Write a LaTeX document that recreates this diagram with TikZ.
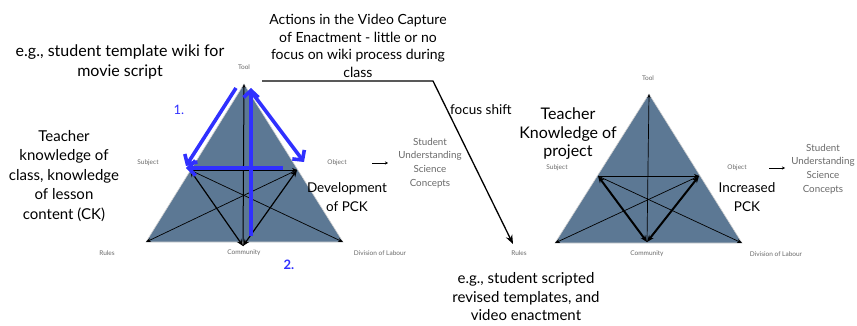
\documentclass[tikz,border=0pt]{standalone}
\usepackage{fontspec}
\setmainfont{Lato}
\usetikzlibrary{arrows.meta}
\definecolor{triblue}{RGB}{92,120,148}
\definecolor{penblue}{RGB}{48,48,255}
\definecolor{labgrey}{RGB}{105,105,105}

\begin{document}
\begin{tikzpicture}[x=1pt, y=-1pt,
  big/.style={align=center, font=\fontsize{13.5}{18.5}\selectfont, inner sep=0pt},
  small/.style={text=labgrey, font=\fontsize{6.5}{8}\selectfont, inner sep=0pt},
  grey block/.style={text=labgrey, align=center, font=\fontsize{9.8}{13.6}\selectfont, inner sep=0pt},
  thin arrow/.style={-{Stealth[length=5pt,width=4pt]}, line width=0.7pt},
  thick arrow/.style={{Stealth[length=7pt,width=5.5pt]}-{Stealth[length=7pt,width=5.5pt]}},
  pen/.style={penblue, line width=3.6pt, -{Straight Barb[length=7pt,width=15pt]}}]
  \useasboundingbox (0,0) rectangle (857,326);
  % left triangle
  \coordinate (tool1) at (244,84);
  \coordinate (rules1) at (146,242);
  \coordinate (div1) at (343,242);
  \coordinate (subj1) at (190,170);
  \coordinate (obj1) at (297,170);
  \coordinate (comm1) at (243,246);
  \fill[triblue, draw=gray!35, line width=0.6pt] (tool1) -- (rules1) -- (div1) -- cycle;
  \draw[thin arrow, {Stealth[length=4pt,width=3pt]}-, line width=1pt] (tool1) -- (comm1);
  \draw[thin arrow] (subj1) -- (obj1);
  \draw[thin arrow] (obj1) -- (rules1);
  \draw[thin arrow] (subj1) -- (div1);
  \draw[thick arrow, line width=1.2pt] (comm1) -- (subj1);
  \draw[thick arrow, line width=1.2pt] (comm1) -- (obj1);
  % right triangle
  \coordinate (tool2) at (649,94);
  \coordinate (rules2) at (555,243);
  \coordinate (div2) at (742,243);
  \coordinate (subj2) at (598,176);
  \coordinate (obj2) at (699,176);
  \coordinate (comm2) at (647,242);
  \fill[triblue, draw=gray!35, line width=0.6pt] (tool2) -- (rules2) -- (div2) -- cycle;
  \draw[thin arrow, {Stealth[length=4pt,width=3pt]}-] (tool2) -- (comm2);
  \draw[thin arrow] (subj2) -- (obj2);
  \draw[thin arrow] (obj2) -- (rules2);
  \draw[thin arrow] (subj2) -- (div2);
  \draw[thick arrow, line width=2pt] (comm2) -- (subj2);
  \draw[thick arrow, line width=2pt] (comm2) -- (obj2);
  % corner labels
  \foreach \k/\dx/\dy in {1/0/0, 2/404/5} {
    \node[small] (tooll\k) at ({244+\dx},{67+\dy+(\k-1)*6}) {Tool};
    \node[small] (subjl\k) at ({148+\dx+(\k-1)*5},{163+\dy}) {Subject};
    \node[small] (objl\k) at ({337+\dx-(\k-1)*4},{163+\dy}) {Object};
    \node[small] (rulesl\k) at ({107+\dx+(\k-1)*8},{253+\dy-(\k-1)*5}) {Rules};
    \node[small] (comml\k) at ({244+\dx-(\k-1)*1},{253+\dy-(\k-1)*4}) {Community};
    \node[small] (divl\k) at ({380+\dx-(\k-1)*8},{253+\dy-(\k-1)*4}) {Division of Labour};
  }
  \node[grey block] (stud1) at (430,163) {Student\\Understanding\\Science\\Concepts};
  \node[grey block] (stud2) at (823,169) {Student\\Understanding\\Science\\Concepts};
  \coordinate (oa1) at (372,163);
  \coordinate (ob1) at (388,163);
  \coordinate (oa2) at (769,168);
  \coordinate (ob2) at (785,168);
  \draw[-{Stealth[length=3pt,width=3pt]}, line width=0.7pt] (oa1) -- (ob1);
  \draw[-{Stealth[length=3pt,width=3pt]}, line width=0.7pt] (oa2) -- (ob2);
  % blue pen arrows
  \coordinate (p1a) at (236,88);
  \coordinate (p1b) at (186,166);
  \coordinate (p2a) at (253,94);
  \coordinate (p2b) at (304,162);
  \coordinate (p3a) at (251,236);
  \coordinate (p3b) at (251,88);
  \coordinate (p4a) at (186,168);
  \coordinate (p4b) at (283,168);
  \draw[pen] (p1a) -- (p1b);
  \draw[pen] (p2a) -- (p2b);
  \draw[pen] (p3a) -- (p3b);
  \draw[pen, {Straight Barb[length=7pt,width=15pt]}-] (p4a) -- (p4b);
  \node[text=penblue, font=\fontsize{13}{15}\selectfont] (one) at (179,110) {1.};
  \node[text=penblue, font=\bfseries\fontsize{13}{15}\selectfont] (two) at (289,265) {2.};
  % focus shift
  \coordinate (fs0) at (262,81);
  \coordinate (fs1) at (433,81);
  \coordinate (fs2) at (513,244);
  \draw[line width=1.3pt, -{Stealth[length=9pt,width=7pt]}] (fs0) -- (fs1) -- (fs2);
  \node[big, anchor=west] (shift) at (450,110) {focus shift};
  % texts
  \node[big, font=\fontsize{16}{19.5}\selectfont] (wiki) at (120,62) {e.g., student template wiki for\\movie script};
  \node[big, font=\fontsize{15}{19.5}\selectfont] (ck) at (64,176) {Teacher\\knowledge of\\class, knowledge\\of lesson\\content (CK)};
  \node[big, font=\fontsize{14}{17.7}\selectfont] (actions) at (358,46) {Actions in the Video Capture\\of Enactment - little or no\\focus on wiki process during\\class};
  \node[big] (pck1) at (347,197) {Development\\of PCK};
  \node[big, font=\fontsize{16}{18.5}\selectfont] (project) at (568,134) {Teacher\\Knowledge of\\project};
  \node[big] (pck2) at (747,197) {Increased\\PCK};
  \node[big, font=\fontsize{15}{18.5}\selectfont] (scripted) at (526,297) {e.g., student scripted\\revised templates, and\\video enactment};
\end{tikzpicture}
\end{document}
